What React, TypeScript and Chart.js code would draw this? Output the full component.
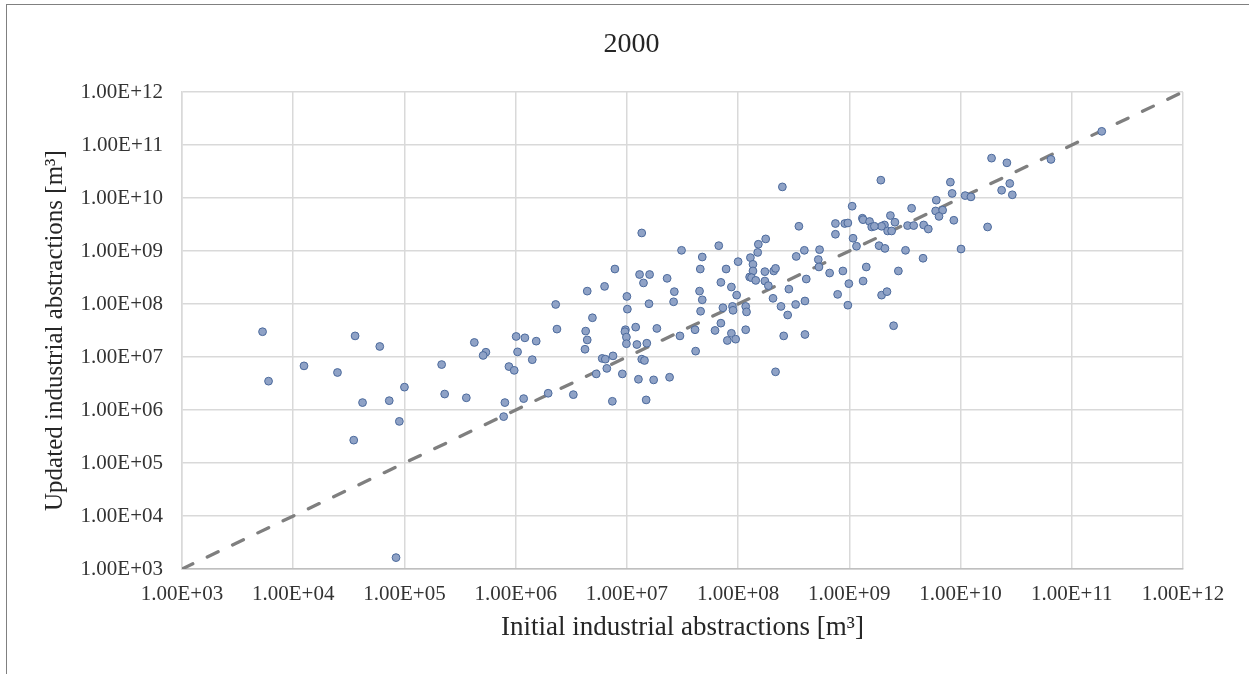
import React, { useEffect, useRef } from "react";
import { Chart, registerables } from "chart.js";

Chart.register(...registerables);

const chartTitle = "2000";
const xAxisTitle = "Initial industrial abstractions [m³]";
const yAxisTitle = "Updated industrial abstractions [m³]";

const tickValues = [1e3, 1e4, 1e5, 1e6, 1e7, 1e8, 1e9, 1e10, 1e11, 1e12];
const tickLabels = [
  "1.00E+03", "1.00E+04", "1.00E+05", "1.00E+06", "1.00E+07",
  "1.00E+08", "1.00E+09", "1.00E+10", "1.00E+11", "1.00E+12",
];

const initialValues = [
  5.3e3, 6.0e3, 1.25e4, 2.5e4, 3.6e4, 6.0e4, 4.2e4, 7.3e4, 1.0e5, 9.0e4,
  3.5e4, 8.4e4, 2.16e5, 2.3e5, 3.6e5, 4.25e5, 5.4e5, 5.1e5, 1.36e7, 3.1e7,
  6.7e7, 4.76e7, 1.0e8, 4.57e7, 7.8e7, 7.8e6, 1.3e7, 1.6e7, 1.41e7, 2.3e7,
  7.0e7, 8.7e7, 9.7e7, 4.4e6, 6.3e6, 1.0e7, 2.67e7, 4.5e7, 4.76e7, 2.63e7,
  1.58e7, 2.29e6, 1.01e7, 4.9e6, 7.3e7, 8.9e7, 9.0e7, 1.17e8, 1.19e8, 4.6e7,
  7.0e7, 6.2e7, 8.7e7, 1.17e8, 4.1e7, 8.0e7, 9.5e7, 3.0e7, 1.86e7, 1.2e7,
  9.7e6, 9.6e6, 9.9e6, 9.9e6, 1.23e7, 1.51e7, 2.35e6, 4.26e6, 4.4e6, 4.2e6,
  1.01e6, 1.21e6, 1.53e6, 1.04e6, 1.41e6, 8.7e5, 9.7e5, 8.0e5, 7.8e5, 1.18e6,
  1.96e6, 3.3e6, 7.4e6, 1.49e7, 5.3e6, 6.6e6, 6.0e6, 6.4e6, 7.5e6, 9.1e6,
  1.36e7, 1.44e7, 1.27e7, 1.74e7, 2.42e7, 4.15e7, 1.9e10, 2.5e8, 1.92e9, 8.1e9,
  8.4e9, 1.1e10, 1.24e10, 6.05e9, 3.63e9, 5.97e9, 6.9e9, 6.4e9, 8.7e9, 1.75e10,
  1.01e10, 2.34e9, 2.57e9, 3.34e9, 3.79e9, 4.66e9, 5.13e9, 2.07e9, 1.95e9, 2.21e9,
  2.4e9, 1.31e9, 1.33e9, 1.52e9, 1.59e9, 1.68e9, 1.06e9, 7.5e8, 9.1e8, 9.7e8,
  7.5e8, 1.08e9, 1.16e9, 1.85e9, 2.09e9, 3.2e9, 4.6e9, 2.76e9, 1.42e9, 1.33e9,
  8.75e8, 9.9e8, 6.65e8, 7.85e8, 9.7e8, 1.95e9, 2.18e9, 2.5e9, 3.52e8, 1.77e8,
  1.52e8, 1.5e8, 1.29e8, 1.36e8, 1.36e8, 1.27e8, 1.32e8, 1.44e8, 1.74e8, 2.09e8,
  2.17e8, 1.74e8, 1.87e8, 3.94e8, 3.33e8, 5.4e8, 5.26e8, 5.33e8, 4.1e8, 2.86e8,
  2.06e8, 2.43e8, 2.79e8, 3.29e8, 3.99e8, 2.57e8, 3.99e8, 2.17e8, 1.86e11, 6.5e10,
  2.61e10, 2.77e10, 2.34e10, 2.92e10,
];

const updatedValues = [
  3.0e7, 3.5e6, 6.8e6, 5.1e6, 2.5e7, 1.58e7, 1.38e6, 1.5e6, 2.7e6, 6.1e5,
  2.7e5, 1.64e3, 7.2e6, 2.0e6, 1.7e6, 1.88e7, 1.23e7, 1.07e7, 2.19e9, 1.03e9,
  1.26e9, 7.7e8, 6.3e8, 4.57e8, 4.57e8, 4.57e8, 3.6e8, 3.6e8, 2.5e8, 3.05e8,
  2.56e8, 2.09e8, 1.47e8, 1.75e8, 2.15e8, 1.39e8, 1.71e8, 1.75e8, 1.2e8, 1.1e8,
  1.01e8, 9.8e7, 8.0e7, 5.5e7, 8.5e7, 9.0e7, 7.6e7, 9.0e7, 7.1e7, 7.3e7,
  4.35e7, 3.17e7, 2.8e7, 3.27e7, 3.27e7, 2.05e7, 2.17e7, 2.5e7, 3.46e7, 3.66e7,
  3.27e7, 3.0e7, 2.37e7, 1.78e7, 1.72e7, 1.82e7, 3.36e7, 3.08e7, 2.1e7, 1.4e7,
  2.44e7, 2.3e7, 1.99e7, 1.25e7, 8.9e6, 6.6e6, 5.6e6, 1.38e6, 7.5e5, 1.64e6,
  2.07e6, 1.95e6, 1.46e6, 1.55e6, 4.8e6, 6.1e6, 9.4e6, 9.1e6, 1.05e7, 4.8e6,
  9.1e6, 8.6e6, 3.8e6, 3.7e6, 4.15e6, 1.29e7, 5.65e10, 1.62e10, 2.17e10, 1.99e10,
  1.22e10, 1.11e10, 1.05e10, 9.1e9, 6.4e9, 5.7e9, 5.9e9, 4.5e9, 3.8e9, 2.84e9,
  1.09e9, 4.67e9, 3.49e9, 3.02e9, 3.02e9, 3.1e9, 2.6e9, 3.1e9, 2.93e9, 2.39e9,
  2.39e9, 4.15e9, 3.9e9, 3.6e9, 2.84e9, 2.93e9, 7.0e9, 3.3e9, 3.3e9, 3.38e9,
  2.07e9, 1.74e9, 1.23e9, 1.26e9, 1.12e9, 1.03e9, 7.3e8, 4.2e8, 4.99e8, 2.71e8,
  4.2e8, 2.42e8, 3.84e8, 1.52e8, 9.5e7, 1.47e8, 1.71e8, 3.89e7, 2.93e9, 1.69e9,
  1.34e9, 9.4e8, 7.5e8, 5.6e8, 4.2e8, 3.23e8, 3.14e8, 2.79e8, 4.08e8, 4.2e8,
  4.7e8, 2.71e8, 2.22e8, 1.03e9, 7.9e8, 1.06e9, 6.9e8, 5.0e8, 2.96e8, 1.91e8,
  1.28e8, 9.0e7, 6.2e7, 9.8e7, 1.14e8, 2.5e7, 2.66e7, 5.25e6, 1.81e11, 5.35e10,
  4.61e10, 1.88e10, 1.4e10, 1.15e10,
];

const identityLine = [1e3, 1e12];

const FONT = "'Liberation Serif', 'Times New Roman', serif";
const TEXT = "#333333";

export default function App() {
  const canvasRef = useRef<HTMLCanvasElement | null>(null);

  useEffect(() => {
    const canvas = canvasRef.current;
    if (!canvas) return;
    const points = initialValues.map((x, i) => ({ x, y: updatedValues[i] }));
    const linePts = identityLine.map((v) => ({ x: v, y: v }));
    const setTicks = (scale: any) => {
      scale.ticks = tickValues.map((v) => ({ value: v }));
    };
    const labelFor = (_v: any, i: number) => tickLabels[i];

    const chart = new Chart(canvas, {
      type: "scatter",
      data: {
        datasets: [
          {
            label: "points",
            data: points,
            backgroundColor: "#8FA2C6",
            borderColor: "#4C6A9C",
            borderWidth: 1,
            pointRadius: 3.9,
            pointHoverRadius: 3.9,
          },
          {
            label: "1:1",
            data: linePts,
            showLine: true,
            borderColor: "#7F7F7F",
            borderWidth: 3.3,
            borderDash: [12, 16],
            borderCapStyle: "round",
            pointRadius: 0,
            fill: false,
          } as any,
        ],
      },
      options: {
        animation: false,
        responsive: false,
        events: [],
        layout: { padding: { left: 10, right: 0, top: 0, bottom: 0 } },
        plugins: {
          legend: { display: false },
          tooltip: { enabled: false },
          title: {
            display: true,
            text: chartTitle,
            color: "#262626",
            font: { family: FONT, size: 28, weight: "normal" },
            padding: { top: 28, bottom: 30.4 },
          },
        },
        scales: {
          x: {
            type: "logarithmic",
            min: 1e3,
            max: 1e12,
            afterBuildTicks: setTicks,
            afterFit: (s: any) => {
              s.height = 105;
            },
            grid: { color: "#D9D9D9", lineWidth: 1.5, drawTicks: false },
            border: { color: "#BFBFBF", width: 1.5 },
            ticks: {
              callback: labelFor,
              color: TEXT,
              font: { family: FONT, size: 21 },
              padding: 13,
              maxRotation: 0,
              autoSkip: false,
            },
            title: {
              display: true,
              text: xAxisTitle,
              color: "#262626",
              font: { family: FONT, size: 27 },
              padding: { top: 0, bottom: 30 },
            },
          },
          y: {
            type: "logarithmic",
            min: 1e3,
            max: 1e12,
            afterBuildTicks: setTicks,
            afterFit: (s: any) => {
              s.width = 172;
            },
            grid: { color: "#D9D9D9", lineWidth: 1.5, drawTicks: false },
            border: { color: "#D9D9D9", width: 1.5 },
            ticks: {
              callback: labelFor,
              color: TEXT,
              font: { family: FONT, size: 21 },
              padding: 19,
              autoSkip: false,
            },
            title: {
              display: true,
              text: yAxisTitle,
              color: "#262626",
              font: { family: FONT, size: 25 },
              padding: { top: 30, bottom: 0 },
            },
          },
          yRight: {
            type: "logarithmic",
            position: "right",
            min: 1e3,
            max: 1e12,
            afterFit: (s: any) => {
              s.width = 70;
            },
            grid: { display: false, drawOnChartArea: false },
            border: { display: false },
            ticks: { display: false },
          },
        },
      } as any,
    });
    return () => chart.destroy();
  }, []);

  return (
    <div style={{ position: "fixed", left: 0, top: 0, width: 1253, height: 674, background: "#fff" }}>
      <div
        style={{
          position: "absolute",
          left: 6,
          top: 4,
          width: 1242,
          height: 700,
          borderLeft: "1.5px solid #808080",
          borderTop: "1.5px solid #808080",
        }}
      />
      <canvas
        ref={canvasRef}
        width={1253}
        height={674}
        style={{ position: "absolute", left: 0, top: 0, width: 1253, height: 674 }}
      />
    </div>
  );
}
